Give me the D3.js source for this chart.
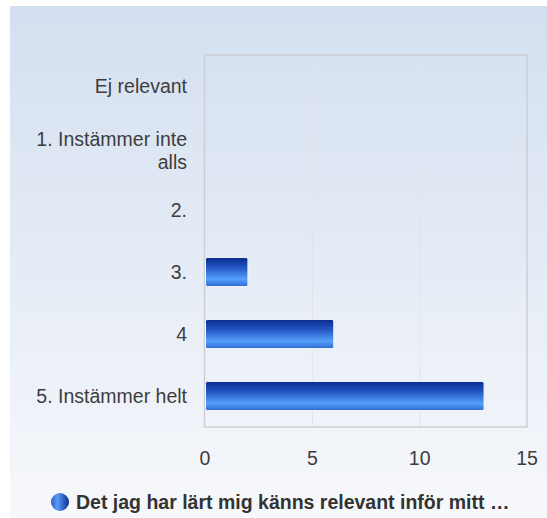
<!DOCTYPE html>
<html>
<head>
<meta charset="utf-8">
<script src="https://cdn.jsdelivr.net/npm/d3@7"></script>
<style>
	html, body { margin: 0; padding: 0; background: #fff; }
	svg { display: block; font-family: "Liberation Sans", Arial, sans-serif; }
</style>
</head>
<body>
<div id="chart"></div>
<script>

// Data

var categories = ['Ej relevant', '1. Instämmer inte|alls', '2.', '3.', '4', '5. Instämmer helt'];
var values = [0, 0, 0, 2, 6, 13];
var xTicks = [0, 5, 10, 15];
var seriesName = 'Det jag har lärt mig känns relevant inför mitt …';

var
	width = 547,
	height = 518,
	plot = {left: 205, top: 55, right: 527, bottom: 427},

	svg = d3.select('#chart').append('svg')
		.attr('width', width)
		.attr('height', height),

	defs = svg.append('defs');

// gradients

var bgGrad = defs.append('linearGradient')
	.attr('id', 'bg').attr('x1', 0).attr('y1', 0).attr('x2', 0).attr('y2', 1);
bgGrad.append('stop').attr('offset', '0%').attr('stop-color', '#d3dff0');
bgGrad.append('stop').attr('offset', '100%').attr('stop-color', '#f7f8fb');

var barGrad = defs.append('linearGradient')
	.attr('id', 'bar').attr('x1', 0).attr('y1', 0).attr('x2', 0).attr('y2', 1);
barGrad.append('stop').attr('offset', '0%').attr('stop-color', '#0b2a8c');
barGrad.append('stop').attr('offset', '35%').attr('stop-color', '#2456c4');
barGrad.append('stop').attr('offset', '75%').attr('stop-color', '#55a0fb');
barGrad.append('stop').attr('offset', '100%').attr('stop-color', '#2c6ad0');

var dotGrad = defs.append('linearGradient')
	.attr('id', 'dot').attr('x1', 0).attr('y1', 0).attr('x2', 1).attr('y2', 0);
dotGrad.append('stop').attr('offset', '0%').attr('stop-color', '#2a5ec8');
dotGrad.append('stop').attr('offset', '35%').attr('stop-color', '#5a9cf6');
dotGrad.append('stop').attr('offset', '100%').attr('stop-color', '#0d2f94');

// background

svg.append('rect')
	.attr('x', 10).attr('y', 6)
	.attr('width', width - 10).attr('height', height - 6)
	.style('fill', 'url(#bg)');

// scales

var x = d3.scaleLinear()
	.domain([0, 15])
	.range([plot.left, plot.right]);

var y = d3.scaleBand()
	.domain(categories)
	.range([plot.top, plot.bottom])
	.paddingInner(0.53)
	.paddingOuter(0.265);

// grid

svg.append('g')
	.selectAll('line')
	.data(xTicks.slice(1, -1))
	.enter()
	.append('line')
	.attr('x1', function(d) {return x(d);})
	.attr('x2', function(d) {return x(d);})
	.attr('y1', plot.top)
	.attr('y2', plot.bottom)
	.style('stroke', '#e2e4e8')
	.style('stroke-width', 1);

svg.append('rect')
	.attr('x', plot.left - 0.5).attr('y', plot.top)
	.attr('width', plot.right - plot.left + 0.5).attr('height', plot.bottom - plot.top)
	.style('fill', 'none')
	.style('stroke', '#cdcfd3')
	.style('stroke-width', 1.5);

// bars

svg.append('g')
	.selectAll('rect')
	.data(values)
	.enter()
	.append('rect')
	.attr('x', x(0) + 0.5)
	.attr('y', function(d, i) {return y(categories[i]);})
	.attr('width', function(d) {return Math.max(0, x(d) - x(0) - 0.5);})
	.attr('height', y.bandwidth())
	.attr('rx', 2)
	.style('fill', 'url(#bar)')
	.style('stroke', '#f4f7fd')
	.style('stroke-width', 1);

// category labels

var labels = svg.append('g')
	.selectAll('text')
	.data(categories)
	.enter()
	.append('text')
	.attr('text-anchor', 'end')
	.style('font-size', '19.5px')
	.style('fill', '#3d3d3d');

labels.each(function(d) {
	var lines = d.split('|'),
		cy = y(d) + y.bandwidth() / 2 + (lines.length > 1 ? 3 : 0),
		t = d3.select(this);
	lines.forEach(function(line, k) {
		t.append('tspan')
			.attr('x', 187)
			.attr('y', cy + (k - (lines.length - 1) / 2) * 23)
			.attr('dy', '0.35em')
			.text(line);
	});
});

// x axis labels

svg.append('g')
	.selectAll('text')
	.data(xTicks)
	.enter()
	.append('text')
	.attr('x', function(d) {return x(d);})
	.attr('y', 458)
	.attr('dy', '0.35em')
	.attr('text-anchor', 'middle')
	.style('font-size', '19.5px')
	.style('fill', '#3d3d3d')
	.text(function(d) {return d;});

// legend

svg.append('circle')
	.attr('cx', 60).attr('cy', 502).attr('r', 9)
	.style('fill', 'url(#dot)');

svg.append('text')
	.attr('x', 76).attr('y', 502)
	.attr('dy', '0.35em')
	.style('font-size', '19.5px')
	.style('font-weight', 'bold')
	.style('fill', '#333')
	.text(seriesName);

</script>
</body>
</html>
